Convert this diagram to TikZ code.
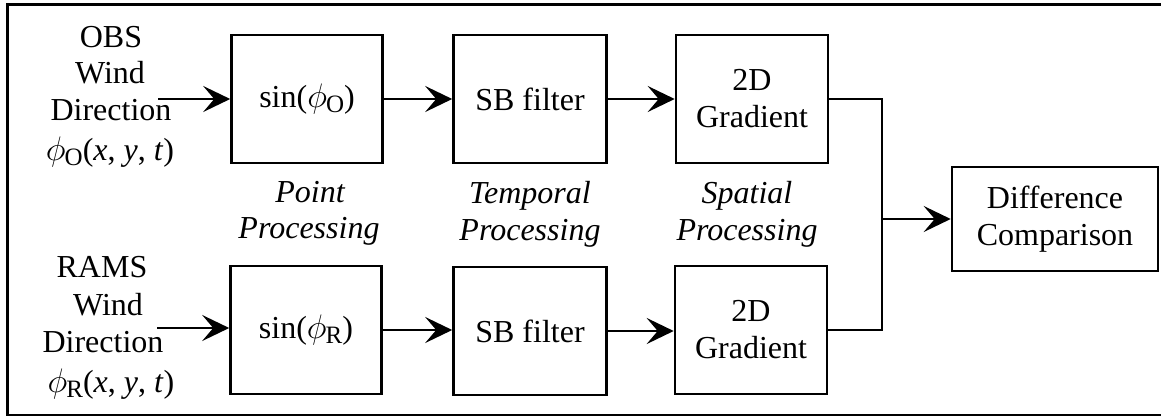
\RequirePackage{fix-cm}
\documentclass[tikz,border=0pt]{standalone}
\usepackage{fontspec}
\setmainfont{Liberation Serif}
\usetikzlibrary{arrows.meta}
\newcommand\bigfont{\fontsize{32}{37}\selectfont}
\newcommand\phisub[1]{{\fontsize{34}{37}\selectfont$\phi$}\kern-1pt\raisebox{-5pt}{\fontsize{25}{25}\selectfont #1}}
\tikzset{
 blk/.style={draw, line width=2.6pt, minimum width=151pt, minimum height=128pt, inner sep=0pt, align=center, font=\bigfont},
 lbl/.style={anchor=base, inner sep=0pt, font=\bigfont},
 ilbl/.style={anchor=base, inner sep=0pt, font=\bigfont\itshape},
 wire/.style={line width=2.6pt, line join=miter},
 arr/.style={wire, -{Stealth[length=27pt,width=26pt,inset=11pt]}},
}
\begin{document}
\begin{tikzpicture}[x=1pt,y=-1pt]
\useasboundingbox (0,0) rectangle (1161,418);
\draw[line width=2.7pt] (1161,4.5) -| (7.5,415) -- (1161,415);

% top row
\node[blk] (sinO) at (307,99) {sin(\phisub{O})};
\node[blk, minimum width=153pt] (sbO) at (530,99) {SB filter};
\node[blk, minimum width=152pt] (grO) at (752,99) {2D\\Gradient};
% bottom row
\node[blk] (sinR) at (306,330) {sin(\phisub{R})};
\node[blk, minimum width=153pt] (sbR) at (530,331) {SB filter};
\node[blk, minimum width=152pt] (grR) at (751,330) {2D\\Gradient};
% difference
\node[blk, minimum width=206pt, minimum height=104pt] (diff) at (1055,219) {Difference\\Comparison};

% input labels
\node[lbl] (obsA) at (111,47) {OBS};
\node[lbl] (obsB) at (110,83) {Wind};
\node[lbl] (obsC) at (111,120) {Direction};
\node[lbl] (obsD) at (110,160) {\phisub{O}(\textit{x}, \textit{y}, \textit{t})};
\node[lbl] (ramsA) at (102,277) {RAMS};
\node[lbl] (ramsB) at (108,315) {Wind};
\node[lbl] (ramsC) at (103,352) {Direction};
\node[lbl] (ramsD) at (111,392) {\phisub{R}(\textit{x}, \textit{y}, \textit{t})};

% stage labels
\node[ilbl] (ptA) at (310,202) {Point};
\node[ilbl] (ptB) at (309,238) {Processing};
\node[ilbl] (tmA) at (530,203) {Temporal};
\node[ilbl] (tmB) at (530,240) {Processing};
\node[ilbl] (spA) at (747,203) {Spatial};
\node[ilbl] (spB) at (747,240) {Processing};

% connectors
\coordinate (inO) at (158,99);
\coordinate (inR) at (157,328);
\draw[arr] (inO) -- (sinO.west |- inO);
\draw[arr] (inR) -- (sinR.west |- inR);
\draw[arr] (sinO) -- (sbO);
\draw[arr] (sinR) -- (sbR.west |- sinR.east);
\draw[arr] (sbO) -- (grO);
\draw[arr] (sbR) -- (grR.west |- sbR.east);
\coordinate (mg) at (882,219);
\draw[wire] (grO.east) -| (mg) |- (grR.east);
\draw[arr] (mg) -- (diff.west |- mg);
\end{tikzpicture}
\end{document}
